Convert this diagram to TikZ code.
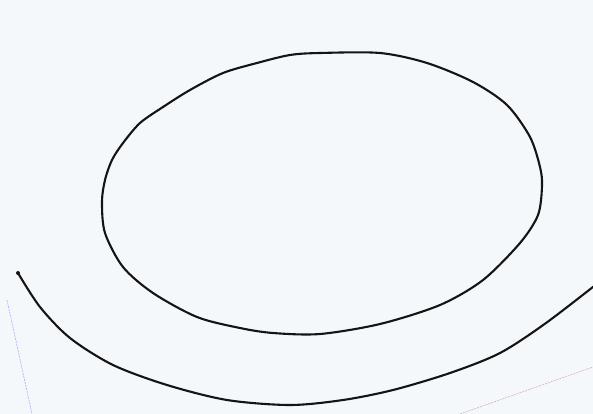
\documentclass[tikz,border=0pt]{standalone}
\begin{document}
\begin{tikzpicture}[x=1pt,y=-1pt,
  ink/.style={draw=black!92, line width=2.1pt, line join=round, line cap=round},
  faintblue/.style={draw=blue!30!white, line width=0.7pt, dash pattern=on 2pt off 1pt},
  faintpurple/.style={draw=violet!30!white, line width=0.7pt, dash pattern=on 2pt off 1pt}]
\fill[fill={rgb,255:red,245;green,248;blue,251}] (0,0) rectangle (593,414);
\useasboundingbox (0,0) rectangle (593,414);
% ellipse
\draw[ink] plot[smooth cycle, tension=0.5] coordinates {
 (320,53) (380,53) (427,63) (473,82) (507,105) (530,137) (540,167) (542,186)
 (538,215) (520,243) (483,280) (440,305) (380,324) (320,334) (273,333)
 (240,328) (197,317) (153,293) (123,267) (105,233) (102,202) (105,180)
 (112,160) (123,143) (140,123) (163,107) (190,90) (223,73) (257,63) (290,55)};
% outer arc
\draw[ink] plot[smooth, tension=0.5] coordinates {
 (18,273) (40,307) (70,338) (113,365) (167,385) (227,400) (290,405)
 (343,400) (393,390) (450,373) (500,353) (546,323) (598,283)};
\fill[black!92] (18,273) circle (2);
% faint edge lines
\draw[faintblue] (7,300) -- (32,414);
\draw[faintpurple] (460,414) -- (596,366);
\end{tikzpicture}
\end{document}
